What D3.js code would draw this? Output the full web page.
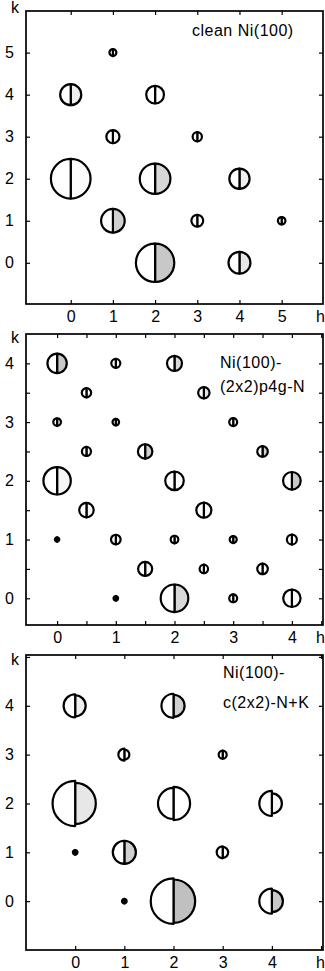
<!DOCTYPE html>
<html>
<head>
<meta charset="utf-8">
<script src="https://cdn.jsdelivr.net/npm/d3@7"></script>
<style>
  body { margin: 0; background: #fff; }
  text { font-family: "Liberation Sans", Arial, Helvetica, sans-serif; }
</style>
</head>
<body>
<div id="chart"></div>
<script>
// ---- data (h, k, spot radius left/right in lattice units, shading of right half) ----
const title1 = ["clean Ni(100)"];
const hTicks1 = [0, 1, 2, 3, 4, 5];
const kTicks1 = [0, 1, 2, 3, 4, 5];
const h1 = [1, 0, 2, 1, 3, 0, 2, 4, 1, 3, 5, 2, 4];
const k1 = [5, 4, 4, 3, 3, 2, 2, 2, 1, 1, 1, 0, 0];
const left1 = [0.083, 0.25, 0.21, 0.155, 0.11, 0.47, 0.36, 0.24, 0.28, 0.14, 0.088, 0.455, 0.26];
const right1 = [0.083, 0.25, 0.21, 0.155, 0.11, 0.47, 0.36, 0.24, 0.28, 0.14, 0.088, 0.455, 0.26];
const shade1 = [0, 0.2, 0, 0.1, 0, 0.05, 0.5, 0.2, 0.6, 0, 0, 0.7, 0.3];

const title2 = ["Ni(100)-", "(2x2)p4g-N"];
const hTicks2 = [0, 1, 2, 3, 4];
const kTicks2 = [0, 1, 2, 3, 4];
const h2 = [0, 1, 2, 0.5, 2.5, 0, 1, 3, 0.5, 1.5, 3.5, 0, 2, 4, 0.5, 2.5, 0, 1, 2, 3, 4, 1.5, 2.5, 3.5, 1, 2, 3, 4];
const k2 = [4, 4, 4, 3.5, 3.5, 3, 3, 3, 2.5, 2.5, 2.5, 2, 2, 2, 1.5, 1.5, 1, 1, 1, 1, 1, 0.5, 0.5, 0.5, 0, 0, 0, 0];
const left2 = [0.165, 0.077, 0.128, 0.08, 0.097, 0.065, 0.056, 0.068, 0.077, 0.123, 0.09, 0.233, 0.158, 0.15,
  0.123, 0.128, 0.037, 0.082, 0.065, 0.06, 0.085, 0.12, 0.072, 0.09, 0.039, 0.235, 0.068, 0.148];
const right2 = [0.165, 0.077, 0.128, 0.08, 0.097, 0.065, 0.056, 0.068, 0.077, 0.123, 0.09, 0.233, 0.158, 0.15,
  0.123, 0.128, 0.037, 0.082, 0.065, 0.06, 0.085, 0.12, 0.072, 0.09, 0.039, 0.235, 0.068, 0.148];
const shade2 = [0.7, 0, 0.5, 0, 0.3, 0, 0, 0, 0, 0.6, 0.6, 0.1, 0, 0.7,
  0.1, 0.1, 0, 0, 0, 0, 0, 0.1, 0, 0, 0, 0.5, 0, 0.1];

const title3 = ["Ni(100)-", "c(2x2)-N+K"];
const hTicks3 = [0, 1, 2, 3, 4];
const kTicks3 = [0, 1, 2, 3, 4];
const h3 = [0, 2, 1, 3, 0, 2, 4, 0, 1, 3, 1, 2, 4];
const k3 = [4, 4, 3, 3, 2, 2, 2, 1, 1, 1, 0, 0, 0];
const left3 = [0.235, 0.245, 0.122, 0.082, 0.46, 0.316, 0.255, 0.047, 0.235, 0.122, 0.047, 0.463, 0.255];
const right3 = [0.214, 0.225, 0.102, 0.082, 0.42, 0.337, 0.204, 0.047, 0.235, 0.112, 0.047, 0.44, 0.224];
const shade3 = [0.2, 0.6, 0, 0, 0.3, 0, 0.1, 0, 0.6, 0, 0, 0.8, 0.7];

// ---- layout ----
const W = 325, H = 971;
const FS = 16;
const panels = [
  { h: h1, k: k1, l: left1, r: right1, s: shade1, title: title1, hTicks: hTicks1, kTicks: kTicks1,
    x0: 26, x1: 323, y0: 11, y1: 304, xDom: [-1.06, 5.98], yDom: [-0.98, 5.99], step: 1,
    tx: 192, ty: 36, lineGap: 0, kY: 13 },
  { h: h2, k: k2, l: left2, r: right2, s: shade2, title: title2, hTicks: hTicks2, kTicks: kTicks2,
    x0: 26, x1: 323, y0: 334, y1: 625, xDom: [-0.53, 4.53], yDom: [-0.455, 4.5], step: 0.5,
    tx: 220, ty: 367.5, lineGap: 24, kY: 343 },
  { h: h3, k: k3, l: left3, r: right3, s: shade3, title: title3, hTicks: hTicks3, kTicks: kTicks3,
    x0: 26, x1: 323, y0: 655, y1: 950, xDom: [-1.0, 5.04], yDom: [-1.0, 5.04], step: 1,
    tx: 223, ty: 678, lineGap: 30, kY: 665 }
];

const svg = d3.select("#chart").append("svg")
  .attr("width", W)
  .attr("height", H)
  .style("background", "#fff");

const fillScale = d3.scaleLinear().domain([0, 1]).range(["#ffffff", "#b0b0b0"]);

panels.forEach(p => {
  const x = d3.scaleLinear().domain(p.xDom).range([p.x0, p.x1]);
  const y = d3.scaleLinear().domain(p.yDom).range([p.y1, p.y0]);
  const rScale = d3.scaleLinear().domain([0, 1]).range([0, x(1) - x(0)]);

  const g = svg.append("g");

  // tick positions (minor ticks every p.step, labels only on integers)
  const hAll = d3.range(Math.ceil(p.xDom[0] / p.step) * p.step, p.xDom[1], p.step).filter(v => v > p.xDom[0] + 0.05);
  const kAll = d3.range(Math.ceil(p.yDom[0] / p.step) * p.step, p.yDom[1], p.step).filter(v => v > p.yDom[0] + 0.05);
  const hMin = d3.min(p.hTicks), kMin = d3.min(p.kTicks);
  const hT = hAll.filter(v => v >= hMin - 1e-6);
  const kT = kAll.filter(v => v >= kMin - 1e-6);
  const lbl = list => d => list.includes(d) ? d : "";

  const styleAxis = sel => {
    sel.select(".domain").remove();
    sel.selectAll("line").attr("stroke", "#000").attr("stroke-width", 1.2);
    sel.attr("font-family", "Liberation Sans, Arial, sans-serif").attr("font-size", FS);
    sel.selectAll("text").attr("fill", "#000");
  };

  g.append("g").attr("transform", `translate(0,${p.y1})`)
    .call(d3.axisBottom(x).tickValues(hT).tickFormat(lbl(p.hTicks)).tickSize(-4).tickPadding(6.5))
    .call(styleAxis);
  g.append("g").attr("transform", `translate(0,${p.y0})`)
    .call(d3.axisTop(x).tickValues(hT).tickFormat("").tickSize(-4))
    .call(styleAxis);
  g.append("g").attr("transform", `translate(${p.x0},0)`)
    .call(d3.axisLeft(y).tickValues(kT).tickFormat(lbl(p.kTicks)).tickSize(-4).tickPadding(12))
    .call(styleAxis);
  g.append("g").attr("transform", `translate(${p.x1},0)`)
    .call(d3.axisRight(y).tickValues(kT).tickFormat("").tickSize(-4))
    .call(styleAxis);

  // frame
  g.append("rect")
    .attr("x", p.x0).attr("y", p.y0)
    .attr("width", p.x1 - p.x0).attr("height", p.y1 - p.y0)
    .attr("fill", "none").attr("stroke", "#000").attr("stroke-width", 1.7);

  // axis letters
  g.append("text").attr("x", 11).attr("y", p.kY).attr("font-size", FS).text("k");
  g.append("text").attr("x", 316).attr("y", p.y1 + 18).attr("font-size", FS).text("h");

  // title
  g.append("g").selectAll("text").data(p.title).join("text")
    .attr("x", p.tx)
    .attr("y", (d, i) => p.ty + i * p.lineGap)
    .attr("font-size", FS)
    .attr("letter-spacing", 0.5)
    .text(d => d);

  // spots: right half shaded (calc), left half white (exp)
  const spots = p.h.map((hv, i) => ({ h: hv, k: p.k[i], l: p.l[i], r: p.r[i], s: p.s[i] }));
  const rightArc = d3.arc().innerRadius(0).startAngle(0).endAngle(Math.PI).outerRadius(d => rScale(d.r));
  const leftArc = d3.arc().innerRadius(0).startAngle(Math.PI).endAngle(2 * Math.PI).outerRadius(d => rScale(d.l));

  const sg = g.append("g").selectAll("g").data(spots).join("g")
    .attr("transform", d => `translate(${x(d.h)},${y(d.k)})`);
  sg.append("path")
    .attr("d", rightArc)
    .attr("fill", d => fillScale(d.s))
    .attr("stroke", "#000").attr("stroke-width", 2.2).attr("stroke-linejoin", "round");
  sg.append("path")
    .attr("d", leftArc)
    .attr("fill", "#fff")
    .attr("stroke", "#000").attr("stroke-width", 2.2).attr("stroke-linejoin", "round");
});
</script>
</body>
</html>
